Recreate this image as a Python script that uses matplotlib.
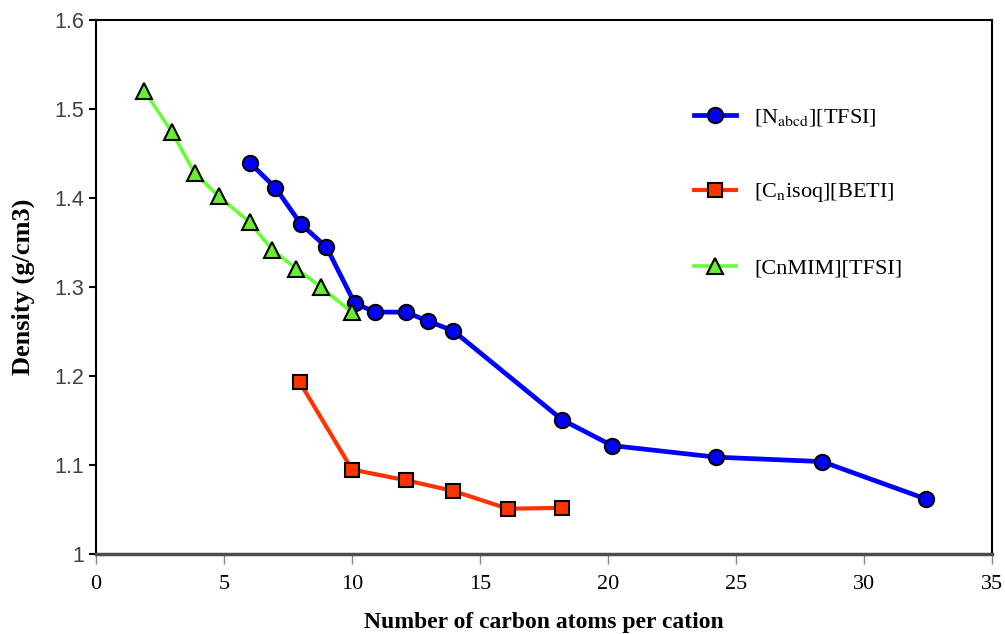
import matplotlib
matplotlib.use("Agg")
import matplotlib.pyplot as plt

# data
n_abcd_x = [6, 7, 8, 9, 10.1, 10.9, 12.1, 12.95, 13.95, 18.2, 20.15, 24.2, 28.35, 32.4]
n_abcd_y = [1.440, 1.412, 1.371, 1.345, 1.282, 1.272, 1.272, 1.262, 1.251, 1.151, 1.122, 1.109, 1.104, 1.062]

cnisoq_x = [7.96, 10.0, 12.1, 13.95, 16.08, 18.18]
cnisoq_y = [1.193, 1.095, 1.083, 1.071, 1.051, 1.052]

cnmim_x = [1.88, 2.95, 3.86, 4.8, 6.0, 6.88, 7.82, 8.79, 9.98]
cnmim_y = [1.521, 1.475, 1.428, 1.402, 1.373, 1.342, 1.321, 1.300, 1.272]

labels = [r"[N$_{\mathrm{abcd}}$][TFSI]", r"[C$_{\mathrm{n}}$isoq][BETI]", "[CnMIM][TFSI]"]

plt.rcParams['mathtext.fontset'] = 'stix'

fig = plt.figure(figsize=(10.05, 6.34), dpi=100)
ax = fig.add_axes([0.0955, 0.126, 0.892, 0.842])

ax.plot(n_abcd_x, n_abcd_y, color='#0000ff', lw=3.4, marker='o', ms=11,
        mfc='#0000ff', mec='black', mew=1.5, label=labels[0], zorder=3)
ax.plot(cnisoq_x, cnisoq_y, color='#ff3300', lw=3, marker='s', ms=10,
        mfc='#ff3300', mec='black', mew=1.5, label=labels[1], zorder=3)
ax.plot(cnmim_x, cnmim_y, color='#66ff33', lw=2.6, marker='^', ms=11,
        mfc='#66ee33', mec='black', mew=1.5, label=labels[2], zorder=4)

ax.set_xlim(0, 35)
ax.set_ylim(1, 1.6)
ax.set_xticks(range(0, 36, 5))
ax.set_yticks([1, 1.1, 1.2, 1.3, 1.4, 1.5, 1.6])
ax.set_yticklabels(['1', '1.1', '1.2', '1.3', '1.4', '1.5', '1.6'],
                   fontfamily='Liberation Sans', fontsize=15.5, color='#404040')
ax.set_xticklabels([str(v) for v in range(0, 36, 5)],
                   fontfamily='Liberation Serif', fontsize=16)

ax.tick_params(axis='y', direction='out', length=5, width=1.5)
ax.tick_params(axis='x', direction='out', length=7, width=1, color='#888888', pad=8)

for s in ['left', 'right', 'top']:
    ax.spines[s].set_linewidth(1.5)
    ax.spines[s].set_color('black')
ax.spines['bottom'].set_linewidth(2.5)
ax.spines['bottom'].set_color('#4d4d4d')

ax.set_xlabel('Number of carbon atoms per cation', fontfamily='Liberation Serif',
              fontweight='bold', fontsize=17, labelpad=13)
ax.set_ylabel('Density (g/cm3)', fontfamily='Liberation Serif',
              fontweight='bold', fontsize=19, labelpad=14)

leg = ax.legend(loc='upper left', bbox_to_anchor=(0.645, 0.875), frameon=False,
                prop={'family': 'Liberation Serif', 'size': 16},
                handlelength=1.9, handletextpad=0.8, labelspacing=2.4)

fig.savefig('out.png', dpi=100)
